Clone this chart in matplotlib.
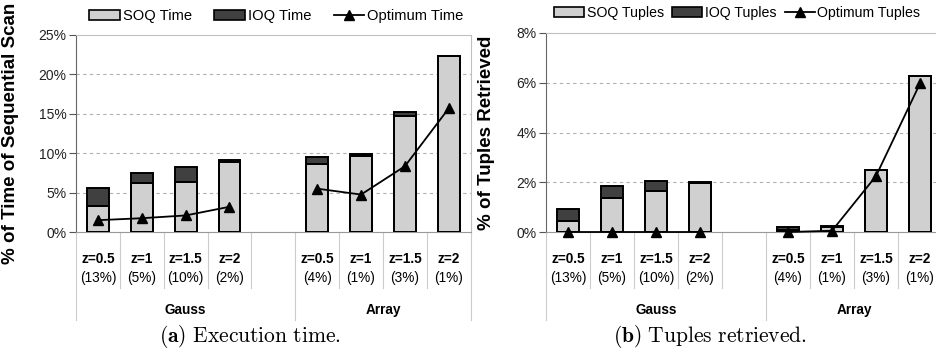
import numpy as np
import matplotlib
matplotlib.use('Agg')
from matplotlib import pyplot as plt
from matplotlib.lines import Line2D
from matplotlib.patches import Patch

plt.rcParams['font.family'] = ['Liberation Sans', 'DejaVu Sans']
plt.rcParams['mathtext.fontset'] = 'cm'

groups = ['Gauss', 'Array']
z_labels = ['z=0.5', 'z=1', 'z=1.5', 'z=2']
pct_gauss = ['(13%)', '(5%)', '(10%)', '(2%)']
pct_array = ['(4%)', '(1%)', '(3%)', '(1%)']

# execution time, % of sequential scan
time_soq_gauss = [3.3, 6.2, 6.3, 8.9]
time_ioq_gauss = [2.3, 1.3, 2.0, 0.3]
time_opt_gauss = [1.5, 1.75, 2.1, 3.2]
time_soq_array = [8.6, 9.6, 14.7, 22.3]
time_ioq_array = [0.9, 0.25, 0.5, 0.0]
time_opt_array = [5.5, 4.75, 8.35, 15.7]

# tuples retrieved, %
tup_soq_gauss = [0.43, 1.36, 1.66, 1.96]
tup_ioq_gauss = [0.49, 0.50, 0.41, 0.07]
tup_opt_gauss = [0.0, 0.0, 0.0, 0.0]
tup_soq_array = [0.10, 0.19, 2.5, 6.26]
tup_ioq_array = [0.09, 0.06, 0.0, 0.0]
tup_opt_array = [0.0, 0.05, 2.25, 5.97]

soq_color = '#d0d0d0'
ioq_color = '#404040'

W, H = 937, 357
fig = plt.figure(figsize=(W / 100, H / 100), dpi=100)

x_gauss = np.arange(4)
x_array = np.arange(4) + 5


def panel(rect, soq_g, ioq_g, opt_g, soq_a, ioq_a, opt_a, ymax, ystep, ylabel, ylabel_x,
          names, leg_anchor, leg_size, colspace):
    ax = fig.add_axes(rect)
    ax_w = rect[2] * W
    ax_h = rect[3] * H
    for xs, soq, ioq in [(x_gauss, soq_g, ioq_g), (x_array, soq_a, ioq_a)]:
        ax.bar(xs, soq, width=0.5, color=soq_color, edgecolor='black', linewidth=1.4, zorder=3)
        ax.bar(xs, ioq, width=0.5, bottom=soq, color=ioq_color, edgecolor='black', linewidth=1.4, zorder=3)
        # redraw soq outline on top so the split line is visible
        ax.bar(xs, soq, width=0.5, color='none', edgecolor='black', linewidth=1.4, zorder=4)
    ax.plot(x_gauss, opt_g, color='black', lw=1.3, marker='^', ms=7, zorder=5, clip_on=False)
    ax.plot(x_array, opt_a, color='black', lw=1.3, marker='^', ms=7, zorder=5, clip_on=False)

    ax.set_xlim(-0.5, 8.5)
    ax.set_ylim(0, ymax)
    ticks = np.arange(0, ymax + ystep / 2, ystep)
    ax.set_yticks(ticks)
    ax.set_yticklabels(['%d%%' % t for t in ticks], fontsize=10, color='#222222')
    ax.set_xticks([])
    ax.tick_params(axis='y', length=5, color='#555555', pad=2)
    for t in ticks[1:-1]:
        ax.axhline(t, color='#b0b0b0', lw=0.8, ls=(0, (3, 3)), zorder=1)
    ax.spines['left'].set_color('#666666')
    ax.spines['bottom'].set_color('#999999')
    ax.spines['top'].set_color('#c0c0c0')
    ax.spines['right'].set_color('#c0c0c0')
    ax.set_ylabel(ylabel, fontsize=13.5, fontweight='bold')
    ax.yaxis.set_label_coords(ylabel_x / ax_w, 0.5)

    tr = ax.get_xaxis_transform()
    for xs, pcts in [(x_gauss, pct_gauss), (x_array, pct_array)]:
        for x, z, p in zip(xs, z_labels, pcts):
            ax.text(x, -27 / ax_h, z, transform=tr, ha='center', va='center', fontsize=9.8, fontweight='bold')
            ax.text(x, -46 / ax_h, p, transform=tr, ha='center', va='center', fontsize=9.8)
    ax.text(2.0, -78 / ax_h, groups[0], transform=tr, ha='center', va='center', fontsize=9.8, fontweight='bold')
    ax.text(6.5, -78 / ax_h, groups[1], transform=tr, ha='center', va='center', fontsize=9.8, fontweight='bold')
    for k in range(10):
        xb = k - 0.5
        depth = 88 if k in (0, 5, 9) else 56
        ax.add_line(Line2D([xb, xb], [0, -depth / ax_h], transform=tr, color='#cccccc', lw=0.8, clip_on=False))

    handles = [Patch(facecolor=soq_color, edgecolor='black', linewidth=1.2),
               Patch(facecolor=ioq_color, edgecolor='black', linewidth=1.2),
               Line2D([], [], color='black', lw=1.3, marker='^', ms=7)]
    ax.legend(handles, names, loc='center left', bbox_to_anchor=leg_anchor, bbox_transform=fig.transFigure,
              ncol=3, frameon=False, fontsize=leg_size, handlelength=2.1, handleheight=0.62,
              handletextpad=0.2, columnspacing=colspace, borderpad=0, borderaxespad=0)
    return ax


panel([76 / W, 125 / H, 394.7 / W, 197 / H],
      time_soq_gauss, time_ioq_gauss, time_opt_gauss,
      time_soq_array, time_ioq_array, time_opt_array,
      25, 5, '% of Time of Sequential Scan', 19 - 76,
      ['SOQ Time', 'IOQ Time', 'Optimum Time'], (89 / W, 1 - 16 / H), 10.6, 1.5)

panel([546 / W, 125 / H, 396 / W, 199 / H],
      tup_soq_gauss, tup_ioq_gauss, tup_opt_gauss,
      tup_soq_array, tup_ioq_array, tup_opt_array,
      8, 2, '% of Tuples Retrieved', 495 - 546,
      ['SOQ Tuples', 'IOQ Tuples', 'Optimum Tuples'], (554 / W, 1 - 13 / H), 10.2, 0.6)

fig.text(250 / W, 1 - 337 / H, r'$(\mathbf{a})\ \mathrm{Execution\ time.}$', ha='center', va='center', fontsize=15.5)
fig.text(710 / W, 1 - 337 / H, r'$(\mathbf{b})\ \mathrm{Tuples\ retrieved.}$', ha='center', va='center', fontsize=15.5)

fig.savefig('out.png', dpi=100)
